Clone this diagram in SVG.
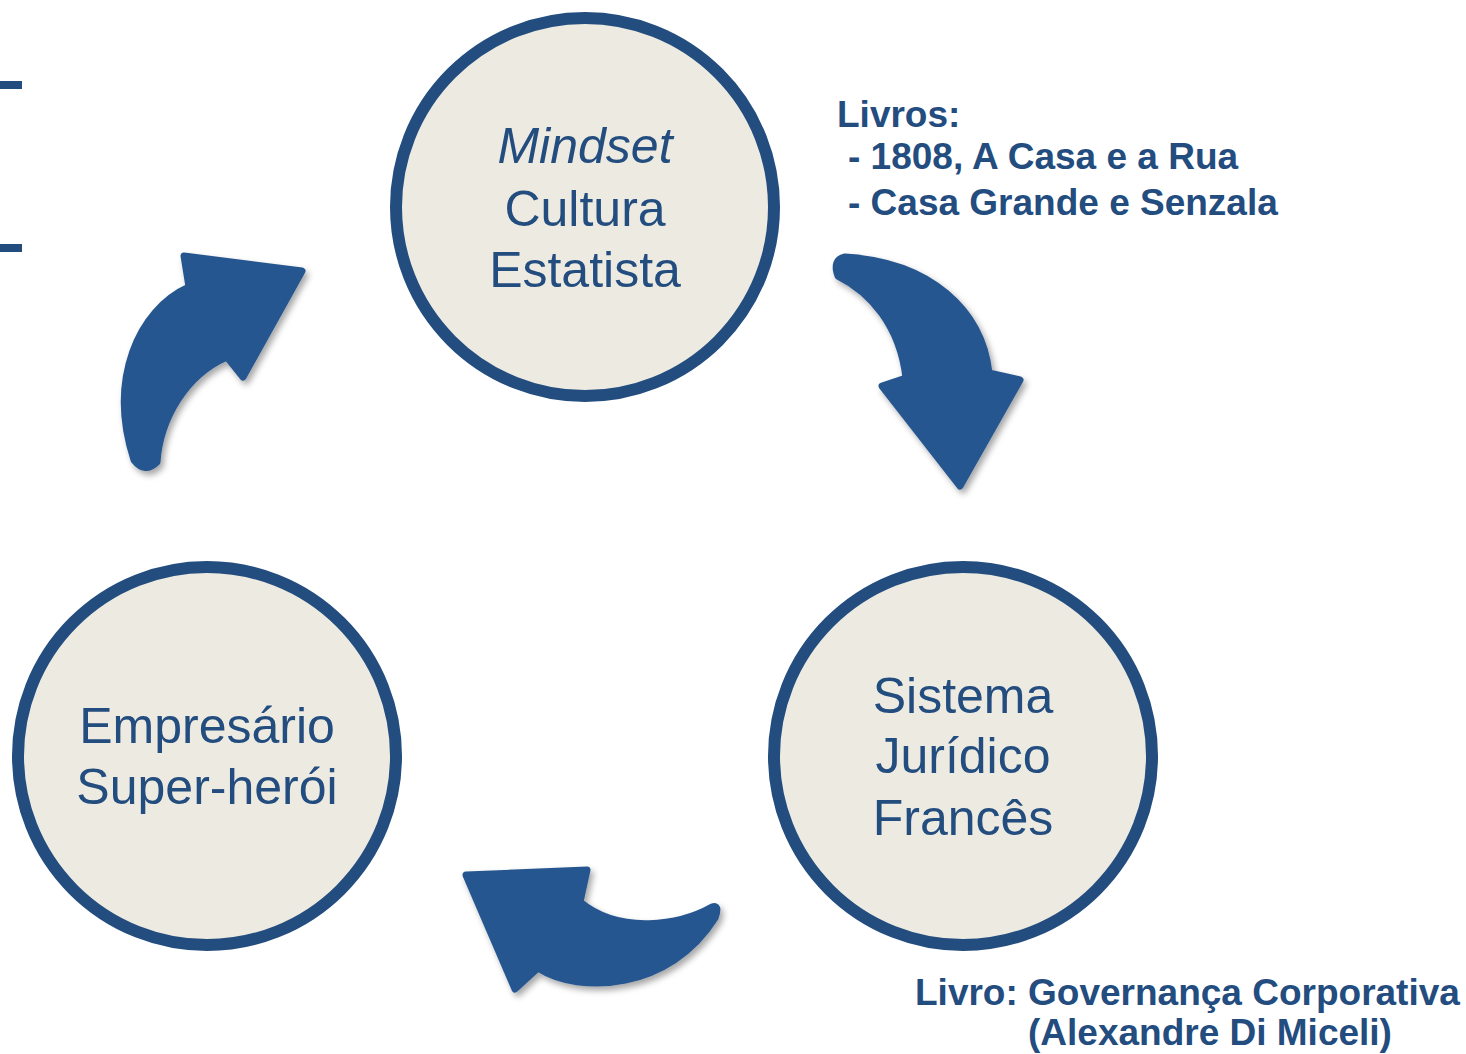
<svg xmlns="http://www.w3.org/2000/svg" width="1466" height="1054" viewBox="0 0 1466 1054">
<defs>
<filter id="sh" x="-20%" y="-20%" width="140%" height="140%">
<feDropShadow dx="3" dy="4" stdDeviation="3" flood-color="#000" flood-opacity="0.35"/>
</filter>
<style>
.circ{fill:#edebe1;stroke:#234c7f;stroke-width:12}
.ct{font-family:"Liberation Sans",Arial,sans-serif;font-size:50px;fill:#234c7f;text-anchor:middle}
.lb{font-family:"Liberation Sans",Arial,sans-serif;font-size:37px;font-weight:bold;fill:#234c7f}
.arr{fill:#28578f;stroke:#28578f;stroke-width:7;stroke-linejoin:round;filter:url(#sh)}
.bar{fill:#234c7f}
</style>
</defs>
<rect width="1466" height="1054" fill="#ffffff"/>
<rect class="bar" x="0" y="81" width="22" height="8"/>
<rect class="bar" x="0" y="244" width="22" height="8"/>
<g id="connectors">
<path class="arr" d="M 838,276 C 870,292 900,325 906,378 L 882,386 L 960,486 L 1020,380 L 989,373 C 982,310 930,262 845,257 Q 832,260 838,276 Z"/>
<path class="arr" d="M 712,907 C 680,925 620,935 580,902 L 587,870 L 466,875 L 515,989 L 538,968 C 580,995 670,990 715,918 Q 720,904 712,907 Z"/>
<path class="arr" d="M 157,462 C 160,420 185,375 227,357 L 243,377 L 302,271 L 184,256 L 189,287 C 138,310 108,380 134,460 Q 145,474 157,462 Z"/>
</g>
<g id="node-mindset">
<circle class="circ" cx="585" cy="207" r="189"/>
<text class="ct" x="585" y="163" font-style="italic">Mindset</text>
<text class="ct" x="585" y="226">Cultura</text>
<text class="ct" x="585" y="287">Estatista</text>
</g>
<g id="node-sistema">
<circle class="circ" cx="963" cy="756" r="189"/>
<text class="ct" x="963" y="713">Sistema</text>
<text class="ct" x="963" y="773">Jurídico</text>
<text class="ct" x="963" y="835">Francês</text>
</g>
<g id="node-empresario">
<circle class="circ" cx="207" cy="756" r="189"/>
<text class="ct" x="207" y="743">Empresário</text>
<text class="ct" x="207" y="804">Super-herói</text>
</g>
<g id="label-livros">
<text class="lb" x="837" y="127">Livros:</text>
<text class="lb" x="848" y="169">- 1808, A Casa e a Rua</text>
<text class="lb" x="848" y="215">- Casa Grande e Senzala</text>
</g>
<g id="label-livro">
<text class="lb" x="915" y="1005">Livro: Governança Corporativa</text>
<text class="lb" x="1028" y="1045">(Alexandre Di Miceli)</text>
</g>
</svg>
